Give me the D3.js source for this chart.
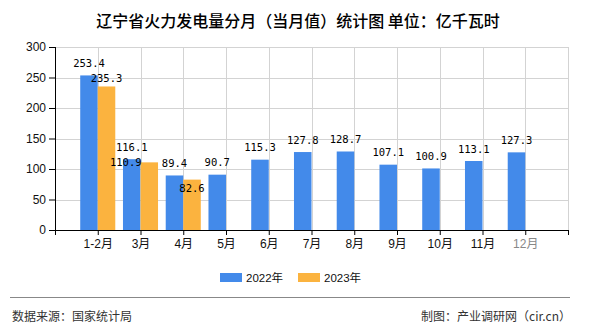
<!DOCTYPE html>
<html><head><meta charset="utf-8">
<script src="https://cdn.jsdelivr.net/npm/d3@7/dist/d3.min.js"></script>
<style>
html,body{margin:0;padding:0;background:#fff;}
svg{display:block;}
</style></head>
<body><svg id="c" width="590" height="330"></svg>
<script>
const title = "辽宁省火力发电量分月（当月值）统计图 单位：亿千瓦时";
const categories = ["1-2月","3月","4月","5月","6月","7月","8月","9月","10月","11月","12月"];
const series2022 = [253.4,116.1,89.4,90.7,115.3,127.8,128.7,107.1,100.9,113.1,127.3];
const series2023 = [235.3,110.9,82.6,null,null,null,null,null,null,null,null];
const seriesNames = ["2022年","2023年"];
const yTicks = [0,50,100,150,200,250,300];
const source = "数据来源：国家统计局";
const credit = "制图：产业调研网（cir.cn）";

(function(){
const colors = ["#438aea","#fbb33f"];
const svg = d3.select("#c");
const pL = 55, pR = 568, pT = 47, pB = 230;

const x = d3.scalePoint().domain(["_s", ...categories, "_e"]).range([pL, pR]);
const y = d3.scaleLinear().domain([0, 300]).range([pB, pT]);
const bw = x.step() * 0.41;

// title
svg.append("text").attr("x", 298).attr("y", 20).attr("text-anchor", "middle")
  .attr("dominant-baseline", "central")
  .style("font-family", "'Noto Sans CJK SC'").style("font-size", "16px").style("font-weight", "500")
  .attr("fill", "#000").text(title);

// grid
const g = svg.append("g");
g.selectAll("line.h").data(yTicks.filter(d => d > 0)).join("line")
  .attr("x1", pL).attr("x2", pR).attr("y1", d => Math.round(y(d)) + 0.5).attr("y2", d => Math.round(y(d)) + 0.5)
  .attr("stroke", "#d3d3d3").attr("stroke-width", 1);
g.selectAll("line.v").data(x.domain().slice(1)).join("line")
  .attr("x1", d => Math.round(x(d)) + 0.5).attr("x2", d => Math.round(x(d)) + 0.5)
  .attr("y1", pT).attr("y2", pB).attr("stroke", "#d3d3d3").attr("stroke-width", 1);

// bars
const bars = svg.append("g");
bars.selectAll("rect.a").data(categories).join("rect")
  .attr("x", d => x(d) - bw).attr("width", bw)
  .attr("y", (d, i) => y(series2022[i])).attr("height", (d, i) => y(0) - y(series2022[i]))
  .attr("fill", colors[0]);
bars.selectAll("rect.b").data(categories.filter((d, i) => series2023[i] != null)).join("rect")
  .attr("x", d => x(d)).attr("width", bw)
  .attr("y", (d, i) => y(series2023[i])).attr("height", (d, i) => y(0) - y(series2023[i]))
  .attr("fill", colors[1]);

// axes
const yAxis = svg.append("g").attr("transform", `translate(${pL},0)`)
  .call(d3.axisLeft(y).tickValues(yTicks).tickSize(6).tickPadding(3).tickFormat(d3.format("d")));
yAxis.select(".domain").attr("d", `M0.5,${pT}V${pB}`).attr("stroke", "#000");
yAxis.selectAll(".tick line").attr("stroke", "#000");
yAxis.selectAll("text").style("font-family", "'Liberation Sans'").style("font-size", "12px").attr("fill", "#111");

const xAxis = svg.append("g").attr("transform", `translate(0,${pB})`)
  .call(d3.axisBottom(x).tickSize(5).tickPadding(4).tickFormat(d => d.startsWith("_") ? "" : d));
xAxis.select(".domain").attr("d", `M${pL},0.5H${pR}`).attr("stroke", "#000");
xAxis.selectAll(".tick line").attr("stroke", "#000");
xAxis.selectAll("text").style("font-family", "'Liberation Sans','Noto Sans CJK SC'").style("font-size", "12px")
  .attr("fill", d => d === "12月" ? "#888" : "#111");

// value labels with simple overlap avoidance
const lab = svg.append("g").style("font-family", "'DejaVu Sans Mono'").style("font-size", "10.5px").attr("fill", "#000");
const charW = 6.3, lh = 12;
const blueLabels = categories.map((c, i) => ({ x: x(c) - bw / 2, y: y(series2022[i]) - 12.5, t: series2022[i].toFixed(1) }));
const hit = (a, b) => Math.abs(a.x - b.x) < (a.t.length + b.t.length) * charW / 2 && Math.abs(a.y - b.y) < lh;
blueLabels.forEach(l => lab.append("text").attr("x", l.x).attr("y", l.y).attr("text-anchor", "middle")
  .attr("dominant-baseline", "central").text(l.t));
categories.forEach((c, i) => {
  const v2 = series2023[i];
  if (v2 == null) return;
  const b = blueLabels[i];
  const l = { x: x(c) + bw / 2, y: y(v2) - 12.5, t: v2.toFixed(1) };
  if (hit(l, b)) {
    l.y = b.y + 15;
    const nb = blueLabels[i + 1];
    if (nb && hit(l, nb)) {
      l.x = b.x - 6;              // slide left under own blue label
    } else if (l.y > y(v2) - 5) {
      l.y = y(v2) + 8;            // drop onto the bar top
    }
  }
  lab.append("text").attr("x", l.x).attr("y", l.y).attr("text-anchor", "middle")
    .attr("dominant-baseline", "central").text(l.t);
});

// legend
const leg = svg.append("g");
const legX = [220, 298];
seriesNames.forEach((n, i) => {
  leg.append("rect").attr("x", legX[i]).attr("y", 273).attr("width", 22).attr("height", 9).attr("fill", colors[i]);
  leg.append("text").attr("x", legX[i] + 26).attr("y", 278).attr("dominant-baseline", "central")
    .style("font-family", "'Liberation Sans','Noto Sans CJK SC'").style("font-size", "11.5px").attr("fill", "#111").text(n);
});

// footer
svg.append("line").attr("x1", 10).attr("x2", 570).attr("y1", 297.5).attr("y2", 297.5).attr("stroke", "#888").attr("stroke-width", 1.2);
svg.append("text").attr("x", 12).attr("y", 315).attr("dominant-baseline", "central")
  .style("font-family", "'Noto Sans CJK SC'").style("font-size", "12px").attr("fill", "#333").text(source);
svg.append("text").attr("x", 571).attr("y", 315).attr("dominant-baseline", "central").attr("text-anchor", "end")
  .style("font-family", "'Noto Sans CJK SC'").style("font-size", "12px").attr("fill", "#333").text(credit);
})();
</script></body></html>
